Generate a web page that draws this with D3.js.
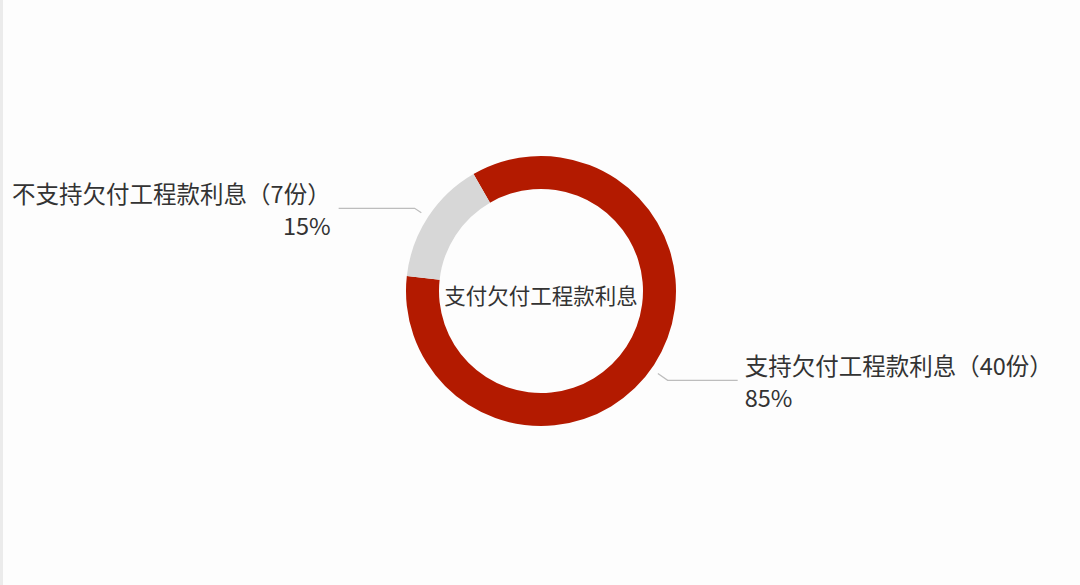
<!DOCTYPE html>
<html>
<head>
<meta charset="utf-8">
<script src="https://cdn.jsdelivr.net/npm/d3@7/dist/d3.min.js"></script>
<style>
  html, body { margin: 0; padding: 0; background: #fdfdfd; }
  body { width: 1080px; height: 585px; overflow: hidden; border-left: 3px solid #ebebeb; box-sizing: border-box; }
  text { font-family: "Noto Sans CJK SC", "Noto Sans", sans-serif; fill: #333; }
</style>
</head>
<body>
<script>
// data
var categories = ["支持欠付工程款利息", "不支持欠付工程款利息"];
var counts = [40, 7];
var colors = ["#b31a00", "#d7d7d7"];
var centerTitle = "支付欠付工程款利息";

var width = 1077, height = 585;
var cx = 538, cy = 291;
var outer = 135, inner = 102;

var svg = d3.select("body").append("svg")
    .attr("width", width)
    .attr("height", height);

var g = svg.append("g")
    .attr("transform", "translate(" + cx + "," + cy + ")");

var total = d3.sum(counts);

var pie = d3.pie()
    .sort(null)
    .startAngle(-30 * Math.PI / 180)
    .endAngle(330 * Math.PI / 180);

var arcs = pie(counts);

var arc = d3.arc().innerRadius(inner).outerRadius(outer);

g.selectAll("path.slice")
    .data(arcs)
    .enter()
    .append("path")
    .attr("class", "slice")
    .attr("d", arc)
    .attr("fill", function(d, i) { return colors[i]; });

// leader lines + labels
arcs.forEach(function(d, i) {
    var mid = (d.startAngle + d.endAngle) / 2;
    var right = Math.sin(mid) > 0;
    if (right) mid += 2 * Math.PI / 180;
    var sx = Math.sin(mid), sy = -Math.cos(mid);
    var r1 = outer + 8, r2 = outer + (right ? 20 : 16);
    var p1 = [r1 * sx, r1 * sy];
    var p2 = [r2 * sx, r2 * sy];
    var p3 = [p2[0] + (right ? 70 : -76), p2[1]];

    g.append("path")
        .attr("d", d3.line()([p1, p2, p3]))
        .attr("fill", "none")
        .attr("stroke", "#bdbdbd")
        .attr("stroke-width", 1.2);

    var tx = p3[0] + (right ? 7 : -8);
    var anchor = right ? "start" : "end";
    var pct = Math.round(counts[i] / total * 100) + "%";

    g.append("text")
        .attr("x", tx)
        .attr("y", p3[1] - 15)
        .attr("text-anchor", anchor)
        .attr("dominant-baseline", "central")
        .style("font-size", "23.5px")
        .text(categories[i] + "（" + counts[i] + "份）");

    g.append("text")
        .attr("x", tx)
        .attr("y", p3[1] + 17)
        .attr("text-anchor", anchor)
        .attr("dominant-baseline", "central")
        .style("font-size", "23.5px")
        .text(pct);
});

g.append("text")
    .attr("x", 0)
    .attr("y", 3)
    .attr("text-anchor", "middle")
    .attr("dominant-baseline", "central")
    .style("font-size", "21.5px")
    .text(centerTitle);
</script>
</body>
</html>
